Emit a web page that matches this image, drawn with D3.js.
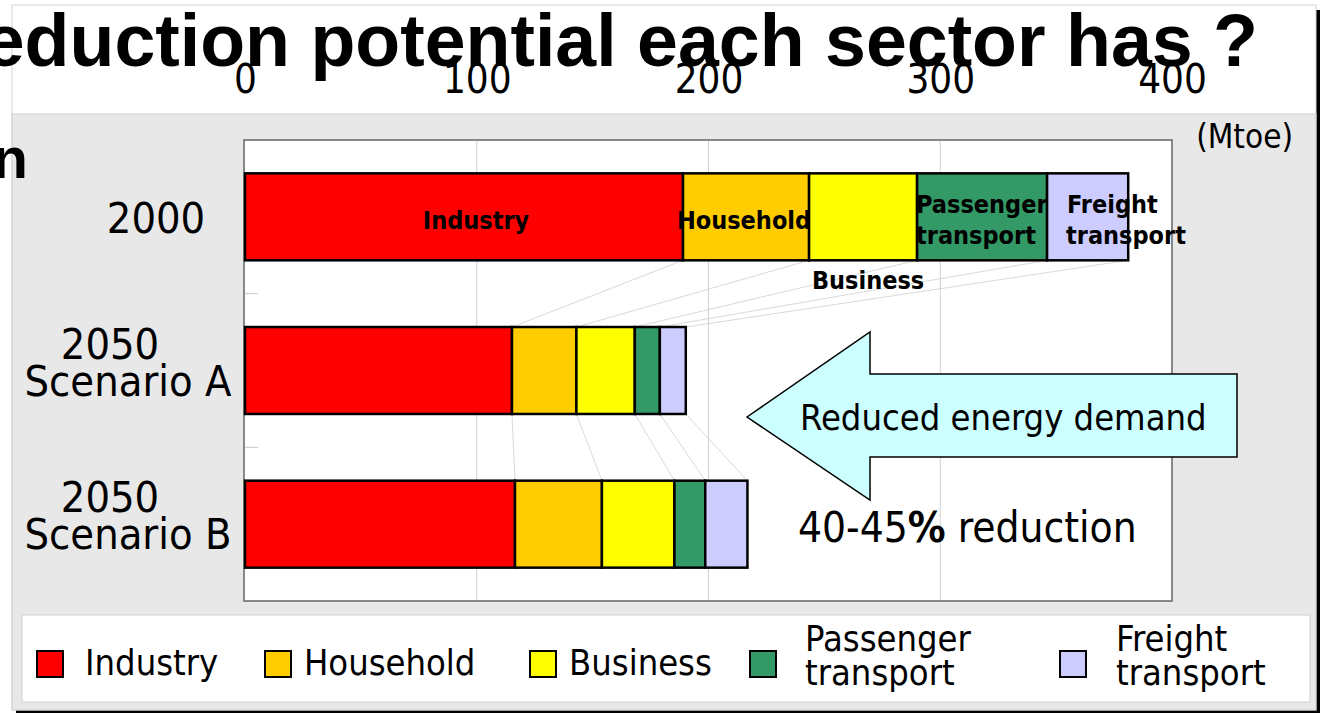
<!DOCTYPE html>
<html>
<head>
<meta charset="utf-8">
<script src="https://cdn.jsdelivr.net/npm/d3@7"></script>
<style>
  body { margin: 0; background: #fff; }
  text { font-family: "DejaVu Sans Condensed", "DejaVu Sans", sans-serif; font-stretch: condensed; }
</style>
</head>
<body>
<div id="chart"></div>
<script>
// categories (rows of the stacked bar) and sectors (stack order)
var years = ["2000", "2050 Scenario A", "2050 Scenario B"]
var sectors = ["Industry", "Household", "Business", "Passenger transport", "Freight transport"]

// final energy demand per sector, Mtoe, one value per row
var industry  = [189, 115.2, 116.5]
var household = [54.4, 27.8, 37.5]
var business  = [46.6, 25.2, 31.3]
var passenger = [56.1, 10.8, 13.3]
var freight   = [35, 11.2, 18.2]

var xTicks = [0, 100, 200, 300, 400]

var colors = ["#ff0000", "#ffcc00", "#ffff00", "#339966", "#ccccff"]

// build a table for d3.stack from the arrays above
var series = [industry, household, business, passenger, freight]
var table = years.map(function(y, i) {
  var row = {year: y}
  sectors.forEach(function(s, k) { row[s] = series[k][i] })
  return row
})

var svg = d3.select("#chart").append("svg")
  .attr("width", 1320)
  .attr("height", 713)

// slide frame with its dark shadow on the right / bottom
svg.append("rect").attr("x", 16).attr("y", 10).attr("width", 1304).attr("height", 703).attr("fill", "#000")
svg.append("rect").attr("x", 12).attr("y", 5).attr("width", 1304).attr("height", 705)
  .attr("fill", "#fff").attr("stroke", "#d4d4d4")
svg.append("rect").attr("x", 12).attr("y", 114).attr("width", 1304).attr("height", 596)
  .attr("fill", "#e8e8e8").attr("stroke", "#d0d0d0")

// title, cut off on the left in the original
svg.append("text")
  .attr("x", 1258).attr("y", 66)
  .attr("text-anchor", "end")
  .style("font-family", "'Liberation Sans', Arial, sans-serif")
  .style("font-stretch", "normal")
  .style("font-weight", "bold")
  .style("font-size", "73.5px")
  .text("Reduction potential each sector has ?")

svg.append("text")
  .attr("x", 28).attr("y", 178)
  .attr("text-anchor", "end")
  .style("font-family", "'Liberation Sans', Arial, sans-serif")
  .style("font-stretch", "normal")
  .style("font-weight", "bold")
  .style("font-size", "58px")
  .text("n")

// scales
var x = d3.scaleLinear()
  .domain([0, 400])
  .range([245, 1172])

var y = d3.scaleBand()
  .domain(years)
  .range([140, 601])
  .paddingInner(0.434)
  .paddingOuter(0.217)

// plot area
svg.append("rect")
  .attr("x", 244).attr("y", 140)
  .attr("width", 1172 - 244).attr("height", 601 - 140)
  .attr("fill", "#fff")
  .attr("stroke", "#888").attr("stroke-width", 2)

svg.selectAll(".grid")
  .data(xTicks.slice(1, -1))
  .enter().append("line")
  .attr("class", "grid")
  .attr("x1", function(d) { return x(d) }).attr("x2", function(d) { return x(d) })
  .attr("y1", 141).attr("y2", 600)
  .style("stroke", "#d0d0d0")

// small category ticks on the inside of the left axis
var step = y.step()
for (var i = 1; i < years.length; i++) {
  svg.append("line")
    .attr("x1", 245).attr("x2", 258)
    .attr("y1", 140 + i * step).attr("y2", 140 + i * step)
    .style("stroke", "#c8c8c8")
}

// top axis, labels only
var xAxis = d3.axisTop(x).tickValues(xTicks).tickSize(0).tickPadding(3)
var ax = svg.append("g")
  .attr("transform", "translate(0, 96)")
  .call(xAxis)
ax.select(".domain").remove()
ax.selectAll("text")
  .style("font-family", null)
  .style("font-size", "40px")
  .attr("fill", "#000")

svg.append("text")
  .attr("x", 1293).attr("y", 148)
  .attr("text-anchor", "end")
  .style("font-size", "33px")
  .text("(Mtoe)")

// stacked values
var stack = d3.stack().keys(sectors)(table)

// series lines joining the segment ends of neighbouring bars
for (var k = 0; k < stack.length; k++) {
  for (var i = 0; i < years.length - 1; i++) {
    svg.append("line")
      .attr("x1", x(stack[k][i][1]))
      .attr("y1", y(years[i]) + y.bandwidth())
      .attr("x2", x(stack[k][i + 1][1]))
      .attr("y2", y(years[i + 1]))
      .style("stroke", "#cfcfcf")
      .style("stroke-width", 0.8)
  }
}

// bars
var layer = svg.selectAll(".layer")
  .data(stack)
  .enter().append("g")
  .attr("class", "layer")
  .attr("fill", function(d, k) { return colors[k] })

layer.selectAll("rect")
  .data(function(d) { return d })
  .enter().append("rect")
  .attr("x", function(d) { return x(d[0]) })
  .attr("y", function(d) { return y(d.data.year) })
  .attr("width", function(d) { return x(d[1]) - x(d[0]) })
  .attr("height", y.bandwidth())
  .attr("stroke", "#000")
  .attr("stroke-width", 2.5)

// category labels
var yLabel = svg.append("g").style("font-size", "43px")
yLabel.append("text")
  .attr("x", 156).attr("y", y("2000") + y.bandwidth() / 2 + 16)
  .attr("text-anchor", "middle").text("2000")
;["2050 Scenario A", "2050 Scenario B"].forEach(function(c) {
  var mid = y(c) + y.bandwidth() / 2
  yLabel.append("text")
    .attr("x", 110).attr("y", mid - 12)
    .attr("text-anchor", "middle").text("2050")
  yLabel.append("text")
    .attr("x", 128).attr("y", mid + 25)
    .attr("text-anchor", "middle").text(c.replace("2050 ", ""))
})

// sector labels on the 2000 bar
var s2000 = stack.map(function(s) { return s[0] })
var top2000 = y("2000")
var lab = svg.append("g")
  .style("font-size", "25px")
  .style("font-weight", "bold")

lab.append("text")
  .attr("x", (x(s2000[0][0]) + x(s2000[0][1])) / 2 + 12)
  .attr("y", top2000 + 56)
  .attr("text-anchor", "middle").text("Industry")
lab.append("text")
  .attr("x", (x(s2000[1][0]) + x(s2000[1][1])) / 2 - 2)
  .attr("y", top2000 + 56)
  .attr("text-anchor", "middle").text("Household")
lab.append("text")
  .attr("x", (x(s2000[2][0]) + x(s2000[2][1])) / 2 + 5)
  .attr("y", top2000 + y.bandwidth() + 29)
  .attr("text-anchor", "middle").text("Business")
lab.append("text")
  .attr("x", x(s2000[3][0]) - 1).attr("y", top2000 + 40)
  .text("Passenger")
lab.append("text")
  .attr("x", x(s2000[3][0]) - 1).attr("y", top2000 + 71)
  .text("transport")
lab.append("text")
  .attr("x", x(s2000[4][0]) + 20).attr("y", top2000 + 40)
  .text("Freight")
lab.append("text")
  .attr("x", x(s2000[4][0]) + 19).attr("y", top2000 + 71)
  .text("transport")

// reduction arrow
var arrow = [[747, 417], [870, 332], [870, 374], [1237, 374], [1237, 457], [870, 457], [870, 500]]
svg.append("polygon")
  .attr("points", arrow.map(function(p) { return p.join(",") }).join(" "))
  .attr("fill", "#ccffff")
  .attr("stroke", "#000")
  .attr("stroke-width", 1.5)

svg.append("text")
  .attr("x", 800).attr("y", 430)
  .style("font-size", "36px")
  .text("Reduced energy demand")

var red = svg.append("text")
  .attr("x", 798).attr("y", 542)
  .style("font-size", "42px")
red.append("tspan").text("40-45")
red.append("tspan").style("font-weight", "bold").text("%")
red.append("tspan").text(" reduction")

// legend
svg.append("rect")
  .attr("x", 22).attr("y", 615).attr("width", 1288).attr("height", 87)
  .attr("fill", "#fff").attr("stroke", "#cfcfcf")

var legendSwatchX = [37, 265, 530, 750, 1060]
var legendTextX = [85, 304, 569, 805, 1116]

var legend = svg.selectAll(".legend")
  .data(sectors)
  .enter().append("g")
  .attr("class", "legend")

legend.append("rect")
  .attr("x", function(d, k) { return legendSwatchX[k] })
  .attr("y", 651).attr("width", 26).attr("height", 26)
  .attr("fill", function(d, k) { return colors[k] })
  .attr("stroke", "#000").attr("stroke-width", 2)

legend.each(function(d, k) {
  var words = d.split(" ")
  var t = d3.select(this).append("text")
    .attr("x", legendTextX[k])
    .style("font-size", "36px")
  if (words.length == 1) {
    t.attr("y", 675).text(d)
  } else {
    t.attr("y", 651).text(words[0])
    d3.select(this).append("text")
      .attr("x", legendTextX[k]).attr("y", 685)
      .style("font-size", "36px")
      .text(words[1])
  }
})
</script>
</body>
</html>
